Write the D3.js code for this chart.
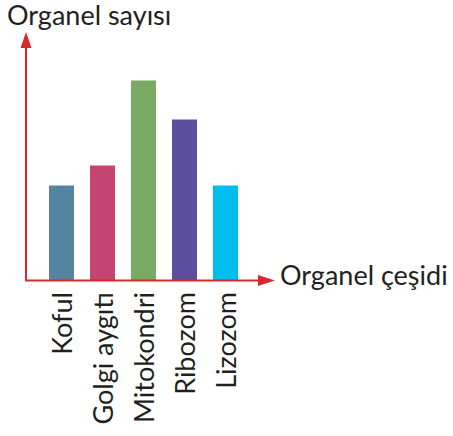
<!DOCTYPE html>
<html>
<head>
<meta charset="utf-8">
<script src="https://cdn.jsdelivr.net/npm/d3@7"></script>
<style>
  body { margin: 0; background: #fff; }
  svg { display: block; }
  text { font-family: Lato, "Noto Sans", sans-serif; fill: #231f20; }
</style>
</head>
<body>
<svg id="chart"></svg>
<script>
// Organel türleri ve sayıları (ölçeksiz)
const categories = ['Koful', 'Golgi aygıtı', 'Mitokondri', 'Ribozom', 'Lizozom'];
const values = [95, 115, 200, 161, 95];
const colors = ['#5385a0', '#c44572', '#7aab64', '#5c4f9f', '#00bdf0'];
const yTitle = 'Organel sayısı';
const xTitle = 'Organel çeşidi';

const width = 453;
const height = 436;
const axisRed = '#d7282f';
const fontSize = '27px';

const svg = d3.select('#chart')
    .attr('width', width)
    .attr('height', height);

// Scales
const x = d3.scaleBand()
    .domain(categories)
    .range([49, 238])
    .paddingInner(16 / 41)
    .paddingOuter(0);

const y = d3.scaleLinear()
    .domain([0, 200])
    .range([280.5, 80.5]);

const originX = 26;
const originY = y(0);

// Bars
svg.append('g')
    .selectAll('rect')
    .data(categories)
    .enter()
    .append('rect')
    .attr('x', d => x(d))
    .attr('y', (d, i) => y(values[i]))
    .attr('width', x.bandwidth())
    .attr('height', (d, i) => y(0) - y(values[i]))
    .attr('fill', (d, i) => colors[i]);

// Category labels (rotated), via the library's axis
const xAxis = svg.append('g')
    .attr('transform', `translate(0, ${originY})`)
    .call(d3.axisBottom(x).tickSize(0));
xAxis.select('.domain').remove();
xAxis.selectAll('text')
    .attr('transform', 'rotate(-90)')
    .attr('x', -11.5)
    .attr('y', 10.5)
    .attr('dy', 0)
    .attr('text-anchor', 'end')
    .style('font-size', fontSize)
    .style('font-family', 'Lato, "Noto Sans", sans-serif')
    .style('fill', '#231f20');

// Axes lines with arrow heads
svg.append('line')
    .attr('x1', originX).attr('y1', originY)
    .attr('x2', originX).attr('y2', 46)
    .attr('stroke', axisRed)
    .attr('stroke-width', 2);

svg.append('line')
    .attr('x1', originX - 1).attr('y1', originY)
    .attr('x2', 261).attr('y2', originY)
    .attr('stroke', axisRed)
    .attr('stroke-width', 2);

// y arrow
svg.append('path')
    .attr('d', `M${originX},32 L${originX + 5.5},48 L${originX - 5.5},48 Z`)
    .attr('fill', axisRed);

// x arrow
svg.append('path')
    .attr('d', `M275,${originY} L258,${originY - 5.5} L258,${originY + 5.5} Z`)
    .attr('fill', axisRed);

// Titles
svg.append('text')
    .attr('x', 7)
    .attr('y', 25)
    .style('font-size', fontSize)
    .text(yTitle);

svg.append('text')
    .attr('x', 280)
    .attr('y', 285)
    .style('font-size', fontSize)
    .text(xTitle);
</script>
</body>
</html>
